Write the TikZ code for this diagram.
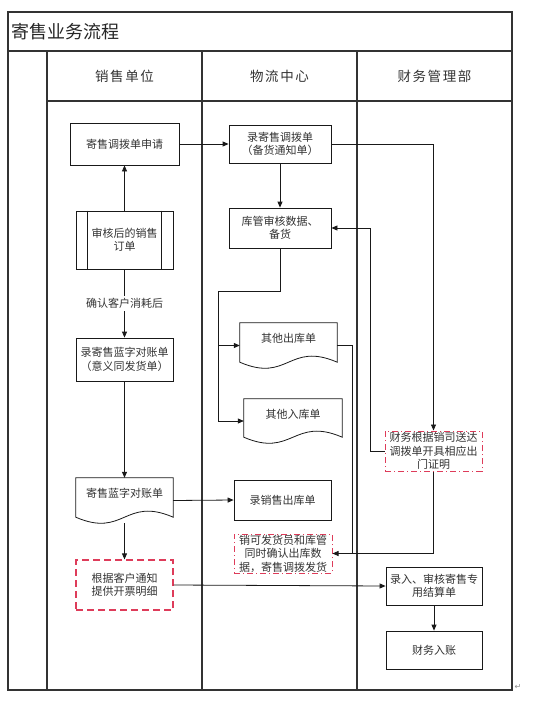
\documentclass[tikz,border=0pt]{standalone}
\usepackage{fontspec}
\setmainfont{Noto Sans CJK SC}
\newfontfamily\hdfont[LetterSpace=12]{Noto Sans CJK SC}
\newfontfamily\symfont{DejaVu Sans}
\usetikzlibrary{arrows.meta,calc}
\definecolor{dashred}{RGB}{222,60,90}
\newcommand\docwave[1]{%
  \draw[ln] (#1.north west) -- (#1.north east) -- ($(#1.south east)+(0,-6)$)
    .. controls ($(#1.south east)+(-48.5,-27)$) and ($(#1.south west)+(48.5,15)$) ..
    ($(#1.south west)+(0,-6)$) -- cycle;}
\begin{document}
\begin{tikzpicture}[x=1pt,y=-1pt,
  frame/.style={draw=black!80, line width=1.1pt},
  ln/.style={draw=black!90, line width=0.8pt},
  arr/.style={ln, -{Triangle[length=6pt,width=5pt]}},
  txt/.style={inner sep=0pt, align=center, font=\fontsize{11}{13.5}\selectfont, text=black!80},
  box/.style={txt, ln, rectangle},
  docnode/.style={txt, rectangle, text height=8pt, text depth=14pt},
  redbox/.style={txt, rectangle, draw=dashred, line width=1.2pt, dash pattern=on 7pt off 4pt},
  ddbox/.style={txt, rectangle, draw=dashred, line width=1pt, dash pattern=on 6pt off 3pt on 1pt off 3pt},
  hd/.style={font=\hdfont\fontsize{13.5}{13.5}\selectfont, text=black!80}
]
\useasboundingbox (0,0) rectangle (534,701);
\fill[white] (0,0) rectangle (534,701);
% frame
\draw[frame] (8,12) rectangle (512,690);
\draw[frame] (8,51) -- (512,51);
\draw[frame] (47,101) -- (512,101);
\draw[frame] (47,51) -- (47,690);
\draw[frame] (202,51) -- (202,690);
\draw[frame] (357,51) -- (357,690);
\node[anchor=west, inner sep=0pt, font=\fontsize{18}{18}\selectfont, text=black!85] (title) at (11,32) {寄售业务流程};
\node[hd] (h1) at (124.5,76) {销售单位};
\node[hd] (h2) at (279.5,76) {物流中心};
\node[hd] (h3) at (434.5,76) {财务管理部};
% lane 1
\node[box, minimum width=109pt, minimum height=42pt] (sq) at (124.5,144) {寄售调拨单申请};
\node[box, minimum width=97pt, minimum height=58pt] (sh) at (124.5,240) {审核后的销售\\订单};
\draw[ln] ($(sh.north west)+(12,0)$) -- ($(sh.south west)+(12,0)$);
\draw[ln] ($(sh.north east)+(-12,0)$) -- ($(sh.south east)+(-12,0)$);
\node[box, minimum width=97pt, minimum height=43pt] (lz) at (124.5,359.5) {录寄售蓝字对账单\\（意义同发货单）};
\node[docnode, minimum width=97pt, minimum height=45pt] (jd) at (124.5,500.5) {寄售蓝字对账单};
\docwave{jd}
\node[redbox, minimum width=97pt, minimum height=50pt] (gj) at (124.5,585) {根据客户通知\\提供开票明细};
% lane 2
\node[box, minimum width=102pt, minimum height=38pt] (ld) at (280,144) {录寄售调拨单\\（备货通知单）};
\node[box, minimum width=102pt, minimum height=40pt] (kg) at (280,228) {库管审核数据、\\备货};
\node[docnode, minimum width=97pt, minimum height=45pt] (qc) at (288.5,345.5) {其他出库单};
\docwave{qc}
\node[docnode, minimum width=98pt, minimum height=44pt] (qr) at (293,421) {其他入库单};
\docwave{qr}
\node[box, minimum width=97pt, minimum height=40pt] (xs) at (282.5,500) {录销售出库单};
\node[ddbox, minimum width=98pt, minimum height=39pt] (xk) at (283,553.5) {销可发货员和库管\\同时确认出库数\\据，寄售调拨发货};
% lane 3
\node[ddbox, minimum width=97pt, minimum height=40pt] (cw) at (433.5,451) {财务根据销司送达\\调拨单开具相应出\\门证明};
\node[box, minimum width=96pt, minimum height=38pt] (lr) at (434,586) {录入、审核寄售专\\用结算单};
\node[box, minimum width=96pt, minimum height=38pt] (rz) at (434,650) {财务入账};
% connectors
\draw[arr] (sh.north) -- (sq.south);
\draw[arr] (sq.east) -- (ld.west);
\draw[arr] (ld.south) -- (kg.north);
\draw[arr] (ld.east) -| (cw.north);
\draw[arr] (cw.west) -- ++(-14,0) |- (kg.east);
\coordinate (j1) at (218,291);
\draw[ln] (kg.south) |- (j1);
\draw[arr] (j1) |- (qc.west);
\draw[arr] (j1) |- (qr.west);
\coordinate (j2) at (352,553.5);
\draw[ln] (qc.east) -| (j2);
\draw[arr] (cw.south) |- (xk.east);
\draw[arr] (sh.south) -- node[midway, fill=white, txt, inner sep=2pt] (lbl) {确认客户消耗后} (lz.north);
\draw[arr] (lz.south) -- (jd.north);
\draw[arr] (jd.south) -- (gj.north);
\draw[arr] (jd.east) -- (xs.west);
\draw[arr] (gj.east) -- (lr.west);
\draw[arr] (lr.south) -- (rz.north);
\node[font=\symfont\fontsize{8}{8}\selectfont, text=black!45, inner sep=0pt] (ret) at (518,687) {↵};
\end{tikzpicture}
\end{document}
